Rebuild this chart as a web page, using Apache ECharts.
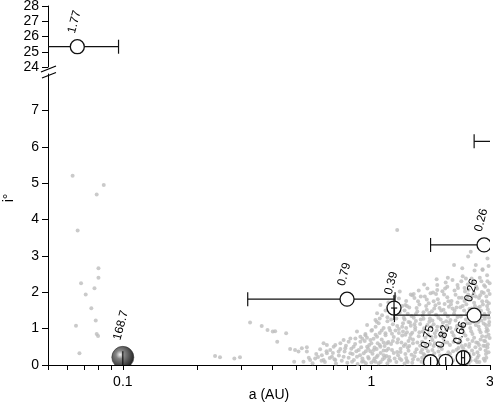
<!DOCTYPE html>
<html>
<head>
<meta charset="utf-8">
<script src="https://cdn.jsdelivr.net/npm/echarts@6/dist/echarts.min.js"></script>
<style>
  html, body { margin: 0; padding: 0; background: #fff; }
  #chart { width: 493px; height: 404px; }
</style>
</head>
<body>
<div id="chart"></div>
<script>
// x axis (log a, AU)
const xMin = 0.05;
const xMax = 3;
const xTickValues = [0.05, 0.06, 0.07, 0.08, 0.09, 0.1, 0.2, 0.3, 0.4, 0.5, 0.6, 0.7, 0.8, 0.9, 1, 2, 3];
const xLabelValues = [0.1, 1, 3];
const xLabels = ["0.1", "1", "3"];
// y axis (inclination, broken)
const yLowTicks = [0, 1, 2, 3, 4, 5, 6, 7];
const yHighTicks = [24, 25, 26, 27, 28];

// bodies with error bars
const bodyNames = ["1.77", "0.79", "0.39", "0.26", "0.26", "0.75", "0.82", "0.66", ""];
const bodyA = [0.0656, 0.798, 1.233, 2.59, 2.84, 1.73, 1.99, 2.34, 3.6];
const bodyI = [25.33, 1.81, 1.566, 1.37, 3.3, 0.09, 0.1, 0.2, 6.15];
const bodyALo = [0.04, 0.318, 1.2, 1.238, 1.73, null, null, 2.305, 2.59];
const bodyAHi = [0.0961, 1.245, 1.27, 5, 5, null, null, 2.37, 5];
const bodyCap = [true, true, false, true, true, false, false, true, true];
const bodyILo = [null, null, 1.24, null, null, 0, 0, null, null];
const bodyIHi = [null, null, 1.92, null, null, 0.22, 0.22, null, null];

// the big one
const bigName = ["168.7"];
const bigA = [0.1];
const bigI = [0.21];
const bigILo = [0];
const bigIHi = [0.38];

// background population
const fieldInner = [
  [0.0628, 5.2], [0.0838, 4.95], [0.0785, 4.69], [0.0658, 3.7], [0.0798, 2.66], [0.0798, 2.4],
  [0.0679, 2.25], [0.0769, 2.11], [0.0709, 1.94], [0.0747, 1.56], [0.0778, 1.22], [0.0648, 1.08],
  [0.0785, 0.85], [0.0795, 0.8], [0.0669, 0.32]
];
const fieldMid = [
  [0.235, 0.25], [0.246, 0.21], [0.281, 0.18], [0.296, 0.21], [0.325, 1.17], [0.362, 1.07],
  [0.382, 0.96], [0.401, 0.92], [0.41, 0.93], [0.454, 0.87], [0.418, 0.64], [0.471, 0.44],
  [0.493, 0.41], [0.509, 0.37], [0.525, 0.46], [0.55, 0.49], [0.55, 0.37], [0.489, 0.09],
  [0.533, 0.09], [0.567, 0.14], [0.594, 0.18], [0.632, 0.27], [0.642, 0.14], [0.662, 0.32],
  [0.683, 0.41], [0.705, 0.5], [0.694, 0.23], [0.716, 0.14], [0.738, 0.37], [0.75, 0.6],
  [0.773, 0.23], [0.785, 0.46], [0.81, 0.64], [0.823, 0.32], [0.836, 0.09], [0.848, 0.5],
  [0.862, 0.73], [0.875, 0.23], [0.889, 0.41], [0.903, 0.64], [0.917, 0.09], [0.931, 0.32],
  [0.946, 0.82], [0.961, 0.5], [0.976, 0.18], [0.991, 0.69], [1.006, 0.96], [1.022, 0.41],
  [1.038, 0.09], [1.054, 0.78], [1.07, 1.15], [1.087, 0.5], [1.104, 1.37], [1.121, 0.27],
  [1.139, 0.87], [1.157, 0.6], [1.164, 1.6], [1.175, 0.14], [1.054, 1.42], [1.087, 1.65],
  [0.622, 0.43], [0.662, 0.55], [0.716, 0.55], [0.773, 0.69], [0.823, 0.73], [0.903, 0.78],
  [0.946, 0.85], [1.0, 0.94], [1.04, 1.05], [1.05, 1.19], [0.642, 0.6], [0.875, 0.92],
  [0.961, 1.1], [1.038, 1.24], [0.58, 0.05], [0.61, 0.22], [0.65, 0.08], [0.68, 0.19],
  [0.7, 0.33], [0.72, 0.04], [0.74, 0.26], [0.76, 0.12], [0.78, 0.37], [0.8, 0.06],
  [0.81, 0.2], [0.83, 0.45], [0.85, 0.14], [0.86, 0.58], [0.88, 0.03], [0.9, 0.27],
  [0.91, 0.49], [0.93, 0.1], [0.94, 0.66], [0.95, 0.38], [0.97, 0.22], [0.98, 0.55],
  [1.0, 0.07], [1.01, 0.31], [1.02, 0.72], [1.03, 0.18], [1.05, 0.44], [1.06, 0.6],
  [1.07, 0.05], [1.08, 0.88], [1.09, 0.33], [1.1, 0.7], [1.11, 0.16], [1.12, 1.02],
  [1.13, 0.52], [1.14, 0.82], [1.15, 0.25], [1.16, 1.2], [1.12, 0.4], [1.08, 1.28],
  [1.14, 1.5], [1.1, 0.95], [1.06, 0.26], [1.04, 0.83], [1.0, 0.6], [0.96, 0.75],
  [0.92, 0.72], [0.87, 0.38], [0.84, 0.3], [0.79, 0.53], [0.75, 0.44], [0.71, 0.16],
  [0.66, 0.38], [0.63, 0.12], [0.6, 0.3], [0.56, 0.2],
  [0.92, 0.18], [0.95, 0.05], [0.99, 0.38], [1.02, 0.12], [1.05, 0.22], [1.09, 0.08],
  [1.12, 0.62], [1.15, 0.4], [1.13, 0.2], [1.08, 0.55], [1.03, 0.48], [0.97, 0.45]
];
const fieldOuter = [
  [1.27, 3.71], [2.51, 3.11], [2.45, 2.98], [2.63, 2.75], [2.32, 2.66], [2.15, 2.75],
  [2.02, 2.15], [2.22, 2.2], [1.84, 2.06], [1.73, 1.97], [1.58, 1.88], [1.46, 1.92],
  [1.37, 1.65], [2.4, 2.38], [2.8, 2.61], [2.93, 2.93],
  [1.16, 0.05], [1.18, 0.22], [1.21, 0.41], [1.17, 0.63], [1.23, 0.77], [1.19, 0.95],
  [1.22, 1.12], [1.16, 1.31], [1.24, 0.18], [1.2, 0.58], [1.25, 1.45], [1.18, 1.02],
  [1.23, 0.33], [1.21, 0.86], [1.17, 1.72], [1.24, 1.88],
  [1.26, 0.08], [1.28, 0.27], [1.31, 0.45], [1.27, 0.62], [1.33, 0.81], [1.29, 0.99],
  [1.34, 1.15], [1.26, 1.28], [1.3, 1.44], [1.32, 0.14], [1.28, 0.71], [1.35, 0.52],
  [1.27, 1.07], [1.33, 1.62], [1.29, 1.83], [1.31, 0.36], [1.34, 0.92], [1.3, 2.02],
  [1.36, 0.04], [1.38, 0.19], [1.41, 0.39], [1.37, 0.57], [1.43, 0.74], [1.39, 0.9],
  [1.44, 1.08], [1.36, 1.25], [1.4, 1.41], [1.42, 1.58], [1.38, 1.76], [1.45, 0.28],
  [1.37, 0.83], [1.43, 1.17], [1.4, 0.48], [1.44, 1.94], [1.39, 0.12], [1.41, 0.66], [1.36, 1.5],
  [1.46, 0.06], [1.49, 0.24], [1.52, 0.43], [1.47, 0.6], [1.55, 0.79], [1.5, 0.97],
  [1.57, 1.13], [1.48, 1.3], [1.53, 1.47], [1.56, 1.66], [1.49, 1.84], [1.54, 0.15],
  [1.47, 0.7], [1.58, 0.35], [1.51, 1.21], [1.55, 2.05], [1.46, 0.89], [1.52, 1.57],
  [1.57, 0.53], [1.5, 1.04],
  [1.59, 0.09], [1.62, 0.3], [1.66, 0.47], [1.6, 0.64], [1.69, 0.83], [1.63, 1.01],
  [1.71, 1.19], [1.61, 1.36], [1.67, 1.52], [1.7, 1.7], [1.64, 1.88], [1.68, 2.1],
  [1.6, 0.2], [1.72, 0.58], [1.65, 0.75], [1.62, 1.27], [1.69, 0.38], [1.66, 1.62],
  [1.61, 0.92], [1.71, 1.43], [1.63, 2.21],
  [1.73, 0.23], [1.76, 0.41], [1.8, 0.6], [1.74, 0.78], [1.83, 0.95], [1.78, 1.12],
  [1.86, 1.3], [1.75, 1.48], [1.81, 1.64], [1.85, 1.81], [1.77, 1.99], [1.84, 2.2],
  [1.79, 0.32], [1.87, 0.5], [1.74, 1.05], [1.82, 1.38], [1.76, 0.69], [1.88, 1.57],
  [1.8, 0.87], [1.83, 2.36], [1.78, 1.75],
  [1.89, 0.26], [1.92, 0.44], [1.96, 0.61], [1.9, 0.8], [2.0, 0.97], [1.94, 1.16],
  [2.03, 1.33], [1.91, 1.5], [1.97, 1.68], [2.02, 1.86], [1.93, 2.03], [1.99, 2.27],
  [2.04, 0.35], [1.95, 0.72], [2.01, 1.08], [1.9, 1.25], [1.98, 1.42], [2.05, 1.6],
  [1.92, 0.9], [2.03, 2.4], [1.96, 1.94],
  [2.06, 0.05], [2.09, 0.2], [2.13, 0.38], [2.07, 0.55], [2.17, 0.73], [2.11, 0.9],
  [2.21, 1.07], [2.08, 1.24], [2.15, 1.41], [2.2, 1.58], [2.1, 1.76], [2.18, 1.93],
  [2.23, 2.12], [2.12, 2.34], [2.24, 0.47], [2.14, 0.64], [2.19, 0.98], [2.06, 1.16],
  [2.22, 1.32], [2.16, 1.5], [2.09, 1.67], [2.25, 1.85], [2.13, 0.13],
  [2.26, 0.1], [2.3, 0.28], [2.34, 0.46], [2.28, 0.63], [2.39, 0.81], [2.32, 0.99],
  [2.43, 1.15], [2.29, 1.33], [2.36, 1.5], [2.41, 1.67], [2.31, 1.85], [2.38, 2.02],
  [2.44, 2.21], [2.33, 2.44], [2.27, 0.72], [2.4, 0.37], [2.35, 1.06], [2.42, 1.41],
  [2.28, 1.59], [2.37, 1.76], [2.45, 1.94], [2.3, 2.3], [2.39, 0.55],
  [2.46, 0.04], [2.5, 0.21], [2.54, 0.4], [2.48, 0.58], [2.59, 0.75], [2.52, 0.93],
  [2.63, 1.1], [2.49, 1.27], [2.56, 1.45], [2.61, 1.62], [2.51, 1.8], [2.58, 1.98],
  [2.64, 2.16], [2.53, 2.38], [2.6, 2.6], [2.47, 0.3], [2.62, 0.49], [2.55, 0.66],
  [2.5, 1.02], [2.57, 1.19], [2.65, 1.36], [2.48, 1.54], [2.59, 1.71], [2.54, 1.89],
  [2.46, 2.07], [2.62, 0.13],
  [2.66, 0.08], [2.7, 0.26], [2.74, 0.44], [2.68, 0.61], [2.79, 0.79], [2.72, 0.97],
  [2.83, 1.14], [2.69, 1.31], [2.76, 1.49], [2.81, 1.66], [2.71, 1.84], [2.78, 2.01],
  [2.84, 2.19], [2.73, 2.4], [2.8, 2.63], [2.67, 0.35], [2.82, 0.53], [2.75, 0.7],
  [2.7, 1.06], [2.77, 1.22], [2.85, 1.4], [2.68, 1.57], [2.79, 1.75], [2.74, 1.92],
  [2.66, 2.1], [2.83, 0.17],
  [2.86, 0.12], [2.89, 0.3], [2.93, 0.48], [2.87, 0.65], [2.96, 0.83], [2.91, 1.01],
  [2.98, 1.18], [2.88, 1.35], [2.94, 1.53], [2.97, 1.7], [2.9, 1.88], [2.95, 2.05],
  [2.99, 2.25], [2.92, 2.47], [2.96, 2.72], [2.88, 0.4], [2.94, 0.57], [2.99, 0.74],
  [2.9, 0.92], [2.97, 1.1], [2.86, 1.27], [2.92, 1.62], [2.98, 1.44], [2.87, 2.15]
];
const fieldDense = [
  [1.17, 0.45], [1.19, 0.12], [1.22, 0.66], [1.25, 0.95], [1.2, 1.25], [1.24, 1.6],
  [1.27, 0.36], [1.3, 0.18], [1.32, 0.62], [1.29, 0.88], [1.35, 1.3], [1.33, 1.05], [1.28, 1.55],
  [1.37, 0.3], [1.4, 0.08], [1.42, 0.52], [1.38, 1.02], [1.45, 1.35], [1.41, 1.18], [1.39, 1.62], [1.44, 0.84],
  [1.47, 0.16], [1.5, 0.35], [1.53, 0.62], [1.49, 1.12], [1.56, 0.9], [1.51, 1.4], [1.54, 1.75], [1.58, 1.25], [1.48, 1.95],
  [1.6, 0.42], [1.63, 0.05], [1.65, 0.58], [1.68, 1.1], [1.62, 1.45], [1.7, 0.95], [1.67, 1.8], [1.72, 1.28], [1.64, 0.27],
  [1.75, 0.12], [1.78, 0.52], [1.81, 0.78], [1.76, 1.22], [1.84, 1.05], [1.79, 1.55], [1.87, 1.7], [1.82, 1.95], [1.86, 0.37],
  [1.9, 0.1], [1.93, 0.55], [1.97, 0.84], [1.91, 1.05], [2.0, 1.2], [1.95, 1.52], [2.04, 1.75], [1.98, 2.1], [2.02, 0.62],
  [2.07, 0.3], [2.1, 0.08], [2.14, 0.82], [2.08, 1.02], [2.18, 1.22], [2.12, 1.55], [2.22, 1.72], [2.16, 2.05], [2.24, 0.6], [2.2, 0.42],
  [2.27, 0.22], [2.31, 0.52], [2.35, 0.88], [2.29, 1.1], [2.4, 1.25], [2.33, 1.62], [2.43, 1.83], [2.37, 2.12], [2.44, 0.7], [2.31, 0.05],
  [2.47, 0.5], [2.51, 0.12], [2.55, 0.85], [2.49, 1.14], [2.6, 1.3], [2.53, 1.55], [2.63, 1.88], [2.57, 2.25], [2.64, 0.62], [2.58, 0.3],
  [2.67, 0.2], [2.71, 0.55], [2.75, 0.9], [2.69, 1.18], [2.8, 1.35], [2.73, 1.6], [2.83, 1.98], [2.77, 2.3], [2.84, 0.67], [2.72, 0.08],
  [2.87, 0.52], [2.9, 0.2], [2.94, 0.95], [2.88, 1.1], [2.97, 1.3], [2.91, 1.75], [2.99, 1.95], [2.93, 2.3], [2.96, 0.35], [2.89, 0.78]
];

const lg = Math.log10;
const FONT = "Liberation Sans, Arial, sans-serif";
const INK = "#111";
const R = 7;

function seg(x1, y1, x2, y2) {
  return { type: "line", shape: { x1: x1, y1: y1, x2: x2, y2: y2 }, style: { stroke: INK, lineWidth: 1.2 } };
}

// circles + error bars (clipped to the grid)
function drawBody(params, api) {
  const k = api.value(2);
  const c = api.coord([api.value(0), api.value(1)]);
  const under = [];
  const over = [];
  if (bodyALo[k] != null) {
    const p1 = api.coord([lg(bodyALo[k]), bodyI[k]]);
    const p2 = api.coord([lg(bodyAHi[k]), bodyI[k]]);
    const list = Math.abs(p2[0] - p1[0]) < 2 * R ? over : under;
    list.push(seg(p1[0], p1[1], p2[0], p2[1]));
    if (bodyCap[k]) {
      list.push(seg(p1[0], p1[1] - R, p1[0], p1[1] + R));
      list.push(seg(p2[0], p2[1] - R, p2[0], p2[1] + R));
    }
  }
  if (bodyILo[k] != null) {
    const q1 = api.coord([lg(bodyA[k]), bodyILo[k]]);
    const q2 = api.coord([lg(bodyA[k]), bodyIHi[k]]);
    over.push(seg(q1[0], q1[1], q2[0], q2[1]));
  }
  const circle = { type: "circle", shape: { cx: c[0], cy: c[1], r: R }, style: { fill: "#fff", stroke: INK, lineWidth: 1.3 } };
  return { type: "group", children: under.concat([circle], over) };
}

function drawBig(params, api) {
  const k = api.value(2);
  const c = api.coord([api.value(0), api.value(1)]);
  const q1 = api.coord([lg(bigA[k]), bigILo[k]]);
  const q2 = api.coord([lg(bigA[k]), bigIHi[k]]);
  return {
    type: "group",
    children: [
      {
        type: "circle",
        shape: { cx: c[0], cy: c[1], r: 11 },
        style: {
          fill: new echarts.graphic.RadialGradient(0.38, 0.38, 0.62, [
            { offset: 0, color: "#f4f4f4" },
            { offset: 0.3, color: "#858585" },
            { offset: 1, color: "#262626" }
          ]),
          stroke: "#333",
          lineWidth: 0.6
        }
      },
      seg(q1[0], q1[1], q2[0], q2[1])
    ]
  };
}

// rotated labels above the markers (not clipped)
function labelRenderer(names, radius) {
  return function (params, api) {
    const k = api.value(2);
    const c = api.coord([api.value(0), api.value(1)]);
    return {
      type: "text",
      x: c[0],
      y: c[1] - radius - 5,
      rotation: (75 * Math.PI) / 180,
      style: { text: names[k], font: "12px " + FONT, fill: "#000", align: "left", verticalAlign: "bottom" }
    };
  };
}

function bodyData(top) {
  const out = [];
  bodyA.forEach(function (a, k) {
    if ((bodyI[k] >= 24) === top) out.push([lg(a), bodyI[k], k]);
  });
  return out;
}
const bigData = bigA.map(function (a, k) { return [lg(a), bigI[k], k]; });
const fieldData = fieldInner.concat(fieldMid, fieldOuter, fieldDense).map(function (p) { return [lg(p[0]), p[1]]; });

const axisText = { color: "#000", fontSize: 14, fontFamily: FONT };
const blackLine = { show: true, onZero: false, lineStyle: { color: "#000", width: 1 } };

const chart = echarts.init(document.getElementById("chart"), null, { renderer: "canvas" });
chart.setOption({
  animation: false,
  backgroundColor: "#fff",
  grid: [
    { left: 48, right: 3, top: 74, height: 291, outerBoundsMode: "none" },
    { left: 48, right: 3, top: 6, height: 61, outerBoundsMode: "none" }
  ],
  xAxis: [
    {
      gridIndex: 0,
      type: "value",
      min: lg(xMin),
      max: lg(xMax),
      axisLine: blackLine,
      axisTick: { show: true, length: 5, customValues: xTickValues.map(lg), lineStyle: { color: "#000" } },
      axisLabel: Object.assign({
        margin: 10,
        customValues: xLabelValues.map(lg),
        formatter: function (v) {
          const k = xLabelValues.findIndex(function (t) { return Math.abs(lg(t) - v) < 1e-6; });
          return k >= 0 ? xLabels[k] : "";
        }
      }, axisText),
      splitLine: { show: false },
      name: "a (AU)",
      nameLocation: "middle",
      nameGap: 23,
      nameMoveOverlap: false,
      nameTextStyle: axisText
    },
    { gridIndex: 1, type: "value", min: lg(xMin), max: lg(xMax), show: false }
  ],
  yAxis: [
    {
      gridIndex: 0,
      type: "value",
      min: 0,
      max: 8,
      axisLine: blackLine,
      axisTick: { show: true, length: 6, customValues: yLowTicks, lineStyle: { color: "#000" } },
      axisLabel: Object.assign({ margin: 9, customValues: yLowTicks }, axisText),
      splitLine: { show: false }
    },
    {
      gridIndex: 1,
      type: "value",
      min: 24,
      max: 28,
      interval: 1,
      axisLine: blackLine,
      axisTick: { show: true, length: 6, customValues: yHighTicks, lineStyle: { color: "#000" } },
      axisLabel: Object.assign({ margin: 9, customValues: yHighTicks }, axisText),
      splitLine: { show: false }
    }
  ],
  graphic: [
    { type: "line", shape: { x1: 41, y1: 72, x2: 56, y2: 66 }, style: { stroke: "#000", lineWidth: 1.2 } },
    { type: "line", shape: { x1: 42, y1: 78, x2: 56, y2: 72.5 }, style: { stroke: "#000", lineWidth: 1.2 } },
    {
      type: "text",
      x: 9,
      y: 198,
      rotation: Math.PI / 2,
      style: { text: "i\u00b0", font: "14px " + FONT, fill: "#000", align: "center", verticalAlign: "middle" }
    }
  ],
  series: [
    {
      type: "scatter",
      xAxisIndex: 0,
      yAxisIndex: 0,
      data: fieldData,
      symbolSize: 4,
      itemStyle: { color: "#bdbdbd" },
      silent: true,
      z: 1
    },
    { type: "custom", xAxisIndex: 0, yAxisIndex: 0, data: bigData, renderItem: drawBig, clip: true, silent: true, z: 2 },
    { type: "custom", xAxisIndex: 0, yAxisIndex: 0, data: bodyData(false), renderItem: drawBody, clip: true, silent: true, z: 3 },
    { type: "custom", xAxisIndex: 1, yAxisIndex: 1, data: bodyData(true), renderItem: drawBody, clip: true, silent: true, z: 3 },
    { type: "custom", xAxisIndex: 0, yAxisIndex: 0, data: bigData, renderItem: labelRenderer(bigName, 11), silent: true, z: 4 },
    { type: "custom", xAxisIndex: 0, yAxisIndex: 0, data: bodyData(false).filter(function (d) { return d[0] <= lg(xMax); }), renderItem: labelRenderer(bodyNames, R), silent: true, z: 4 },
    { type: "custom", xAxisIndex: 1, yAxisIndex: 1, data: bodyData(true), renderItem: labelRenderer(bodyNames, R), silent: true, z: 4 }
  ]
});
</script>
</body>
</html>
